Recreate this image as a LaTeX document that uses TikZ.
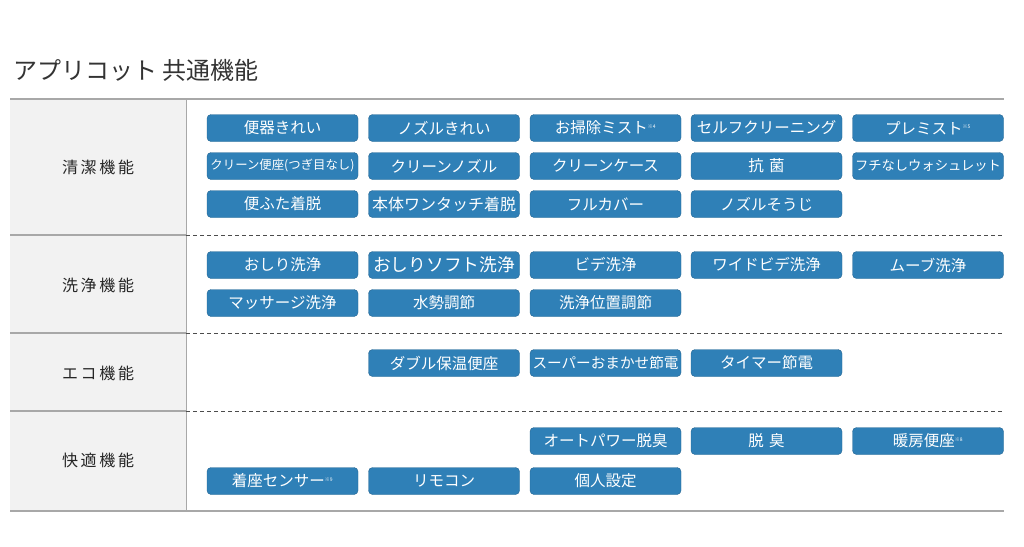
\documentclass[tikz,border=0pt]{standalone}
\usepackage{fontspec}
\setmainfont{Noto Sans CJK JP}
\newsavebox\fbx
\newcommand\fitbox[1]{\sbox\fbx{#1}\ifdim\wd\fbx>104pt\resizebox{104pt}{!}{\usebox\fbx}\else\usebox\fbx\fi}
\newcommand\nt[1]{\textsuperscript{\tiny ※#1}}
\definecolor{btn}{HTML}{2F80B7}
\definecolor{lbg}{HTML}{F2F2F2}
\definecolor{lin}{HTML}{A8A8A8}
\begin{document}
\begin{tikzpicture}[x=1pt,y=-1pt,
 b/.style={fill=btn,draw=btn!80!black,rounded corners=4pt,minimum width=151pt,minimum height=27pt,text=white,font=\fontsize{15.5}{16}\selectfont,inner sep=0pt},
 lab/.style={font=\fontsize{16}{18}\selectfont,text=black!85}]
\useasboundingbox (0,0) rectangle (1024,546);
\fill[lbg] (10,99) rectangle (186,511);
\draw[lin,line width=1.5pt] (10,99) -- (1004,99);
\draw[lin,line width=1.5pt] (10,511) -- (1004,511);
\draw[lin,line width=1pt] (186,99) -- (186,511);
\foreach \y in {235,333,411}{
 \draw[lin,line width=1.2pt] (10,\y) -- (186,\y);
 \draw[black!70,dashed,dash pattern=on 4pt off 3pt] (186,\y) -- (1004,\y);}
\node[anchor=west,font=\fontsize{24}{26}\selectfont,text=black!80] (title) at (10,70) {アプリコット 共通機能};
\node[lab] (l1) at (98,167) {清\,潔\,機\,能};
\node[lab] (l2) at (98,285) {洗\,浄\,機\,能};
\node[lab] (l3) at (98,373) {エ\,コ\,機\,能};
\node[lab] (l4) at (98,460) {快\,適\,機\,能};
\def\ca{282.5}\def\cb{444}\def\cc{605.5}\def\cd{766.5}\def\ce{928}
\node[b] (a1) at (\ca,128) {便器きれい};
\node[b] (a2) at (\cb,128) {ノズルきれい};
\node[b] (a3) at (\cc,128) {お掃除ミスト\nt4};
\node[b] (a4) at (\cd,128) {セルフクリーニング};
\node[b] (a5) at (\ce,128) {プレミスト\nt5};
\node[b] (b1) at (\ca,166) {\resizebox{144pt}{!}{クリーン便座(つぎ目なし)}};
\node[b] (b2) at (\cb,166) {クリーンノズル};
\node[b] (b3) at (\cc,166) {クリーンケース};
\node[b] (b4) at (\cd,166) {抗\,\,菌};
\node[b] (b5) at (\ce,166) {\resizebox{146pt}{!}{フチなしウォシュレット}};
\node[b] (c1) at (\ca,204) {便ふた着脱};
\node[b] (c2) at (\cb,204) {\resizebox{144pt}{!}{本体ワンタッチ着脱}};
\node[b] (c3) at (\cc,204) {フルカバー};
\node[b] (c4) at (\cd,204) {ノズルそうじ};
\node[b] (d1) at (\ca,265) {おしり洗浄};
\node[b] (d2) at (\cb,265) {\resizebox{142pt}{!}{おしりソフト洗浄}};
\node[b] (d3) at (\cc,265) {ビデ洗浄};
\node[b] (d4) at (\cd,265) {ワイドビデ洗浄};
\node[b] (d5) at (\ce,265) {ムーブ洗浄};
\node[b] (e1) at (\ca,303) {マッサージ洗浄};
\node[b] (e2) at (\cb,303) {水勢調節};
\node[b] (e3) at (\cc,303) {洗浄位置調節};
\node[b] (f2) at (\cb,363) {ダブル保温便座};
\node[b] (f3) at (\cc,363) {\resizebox{146pt}{!}{スーパーおまかせ節電}};
\node[b] (f4) at (\cd,363) {タイマー節電};
\node[b] (g3) at (\cc,441) {オートパワー脱臭};
\node[b] (g4) at (\cd,441) {脱\,\,臭};
\node[b] (g5) at (\ce,441) {暖房便座\nt8};
\node[b] (h1) at (\ca,481) {着座センサー\nt9};
\node[b] (h2) at (\cb,481) {リモコン};
\node[b] (h3) at (\cc,481) {個人設定};
\end{tikzpicture}
\end{document}
